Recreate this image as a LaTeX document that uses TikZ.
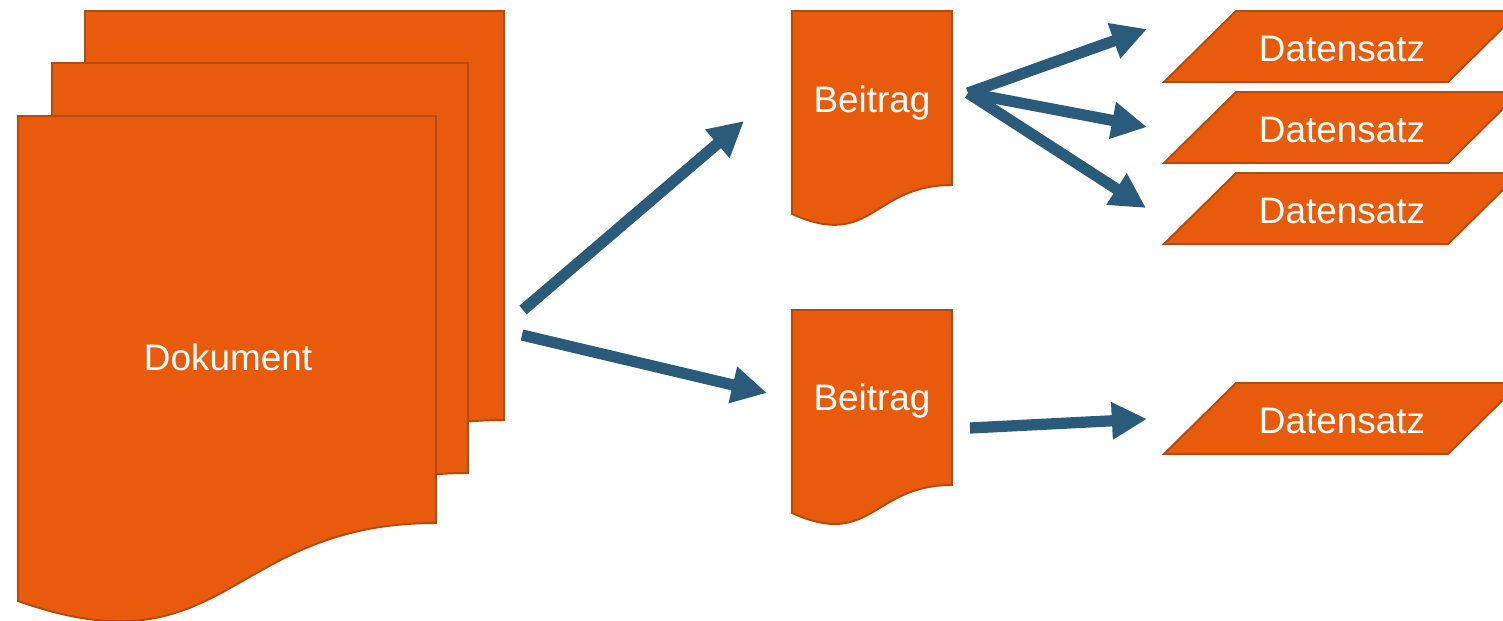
\documentclass[tikz,border=0pt]{standalone}
\usepackage{fontspec}
\setmainfont{Liberation Sans}
\usetikzlibrary{arrows.meta}

\definecolor{docorange}{HTML}{E95B0C}
\definecolor{docedge}{HTML}{B54A0C}
\definecolor{flowblue}{HTML}{2A5B7A}

% sheet with wavy bottom: left x, top y, width, right drop, left drop, dip
\newcommand{\docsheet}[6]{%
  \draw[sheet] (#1,#2) -- ({#1+#3},#2) -- ({#1+#3},{#2+#4})
    .. controls ({#1+#3/2},{#2+#4}) and ({#1+#3/2},{#2+#6}) .. (#1,{#2+#5}) -- cycle;}
% slanted record box: bottom left x, top y
\newcommand{\datshape}[2]{%
  \draw[sheet] (#1,{#2+71}) -- ({#1+284},{#2+71}) -- ({#1+356},#2) -- ({#1+72},#2) -- cycle;}

\begin{document}
\begin{tikzpicture}[x=0.02cm,y=-0.02cm,
	sheet/.style={fill=docorange, draw=docedge, line width=1.1pt},
	txt/.style={text=white, anchor=base, inner sep=0pt, font=\fontsize{21}{25}\selectfont},
	flow/.style={flowblue, line width=6.4pt, -{Triangle[length=20pt,width=20pt]}}]
	\useasboundingbox (0,0) rectangle (1503,620);

	\docsheet{85}{11}{419}{409}{487}{561}
	\docsheet{52}{63}{416}{410}{488}{562}
	\docsheet{18}{116}{418}{407}{485}{559}
	\docsheet{792}{11}{160}{174}{203}{239}
	\docsheet{792}{310}{160}{175}{203}{239}

	\datshape{1164}{11}
	\datshape{1164}{92}
	\datshape{1164}{173}
	\datshape{1164}{383}

	\node at (228,370) [txt] (doc) {Dokument};
	\node at (872,112) [txt] (beit1) {Beitrag};
	\node at (872,410) [txt] (beit2) {Beitrag};
	\node at (1342,61) [txt] (ds1) {Datensatz};
	\node at (1342,142) [txt] (ds2) {Datensatz};
	\node at (1342,223) [txt] (ds3) {Datensatz};
	\node at (1342,433) [txt] (ds4) {Datensatz};

	\coordinate (docout1) at (523,310);
	\coordinate (docout2) at (522,335);
	\coordinate (beit1in) at (744,121);
	\coordinate (beit2in) at (767,393);
	\coordinate (beit1out) at (968,93);
	\coordinate (beit2out) at (970,428);
	\coordinate (ds1in) at (1147,29);
	\coordinate (ds2in) at (1147,127);
	\coordinate (ds3in) at (1146,208);
	\coordinate (ds4in) at (1147,419);

	\draw [flow]
	  (docout1) edge (beit1in)
	  (docout2) edge (beit2in)
	  (beit1out) edge (ds1in)
	  (beit1out) edge (ds2in)
	  (beit1out) edge (ds3in)
	  (beit2out) -- (ds4in)
	;

\end{tikzpicture}
\end{document}
